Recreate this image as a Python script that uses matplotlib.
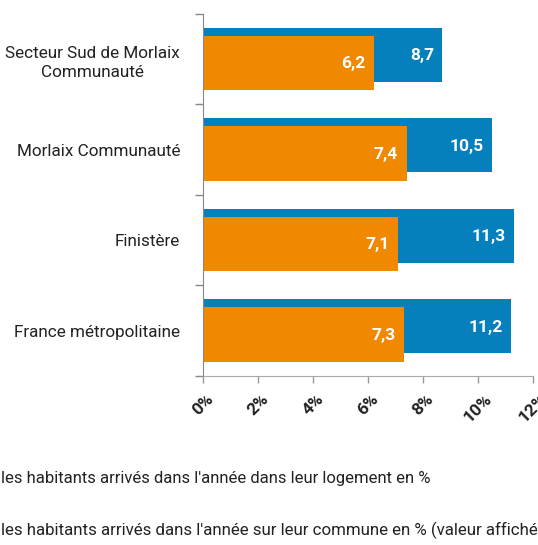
import matplotlib.pyplot as plt
import numpy as np

plt.rcParams['font.family'] = ['Roboto', 'DejaVu Sans']

# Données
categories = ["Secteur Sud de Morlaix\nCommunauté", "Morlaix Communauté",
              "Finistère", "France métropolitaine"]
commune = [8.7, 10.5, 11.3, 11.2]    # arrivés sur leur commune (bleu)
logement = [6.2, 7.4, 7.1, 7.3]      # arrivés dans leur logement (orange)
x_ticks = [0, 2, 4, 6, 8, 10, 12]
legend_logement = "les habitants arrivés dans l'année dans leur logement en %"
legend_commune = "les habitants arrivés dans l'année sur leur commune en % (valeur affichée)"

bleu = "#0580bd"
orange = "#f08800"

fig = plt.figure(figsize=(5.38, 5.45), dpi=100)
ax = fig.add_axes([203 / 538, 169 / 545, 330 / 538, 362 / 545])

y = np.arange(len(categories))
ax.barh(y - 0.05, commune, height=0.6, color=bleu)
ax.barh(y + 0.04, logement, height=0.6, color=orange)

# Valeurs dans les barres
for yi, v in zip(y, commune):
    ax.annotate(f"{v:.1f}".replace(".", ","), (v, yi - 0.04), xytext=(-6, 0),
                textcoords="offset points", ha="right", va="center",
                color="white", fontsize=12.5, fontweight="bold")
for yi, v in zip(y, logement):
    ax.annotate(f"{v:.1f}".replace(".", ","), (v, yi + 0.05), xytext=(-6, 0),
                textcoords="offset points", ha="right", va="center",
                color="white", fontsize=12.5, fontweight="bold")

ax.set_ylim(3.5, -0.5)
ax.set_xlim(0, 12)

# Axe Y : étiquettes au centre, graduations entre catégories
ax.set_yticks(y)
ax.set_yticklabels(categories, fontsize=12.3, color="#222222")
for t in ax.get_yticklabels():
    t.set_multialignment("center")
    t.set_linespacing(1.35)
ax.tick_params(axis="y", which="major", length=0, pad=16.5)
ax.set_yticks(np.arange(-0.5, 4, 1), minor=True)
ax.tick_params(axis="y", which="minor", length=6, color="#888888", width=1)

# Axe X
ax.set_xticks(x_ticks)
ax.set_xticklabels([f"{v}%" for v in x_ticks], rotation=45, fontsize=12.5,
                   fontweight="bold", color="#222222")
ax.tick_params(axis="x", length=5, color="#999999", width=1, pad=6)

for s in ["top", "right"]:
    ax.spines[s].set_visible(False)
ax.spines["left"].set_color("#888888")
ax.spines["bottom"].set_color("#aaaaaa")

# Légende (coupée à gauche comme dans l'original)
fig.text(0.002, 1 - 478 / 545, legend_logement, fontsize=12, color="#222222", va="center")
fig.text(0.002, 1 - 530 / 545, legend_commune, fontsize=12.2, color="#222222", va="center")

plt.savefig("out.png", dpi=100)
